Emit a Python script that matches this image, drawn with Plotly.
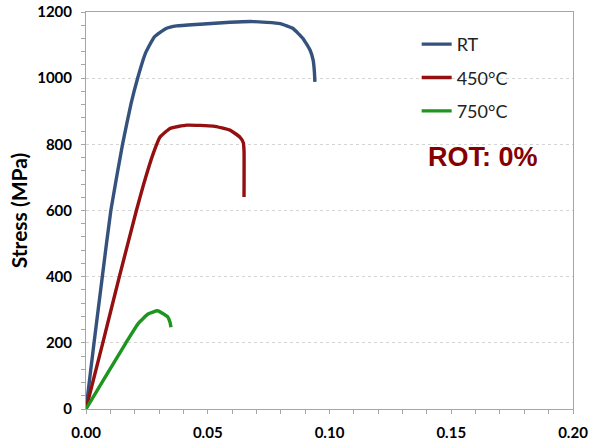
import plotly.graph_objects as go

# ---- data ----
rt_strain = [0.0, 0.0033, 0.0067, 0.0102, 0.0150, 0.0185, 0.0212, 0.0244, 0.0281, 0.0329,
             0.0372, 0.0468, 0.0591, 0.0687, 0.0797, 0.0850, 0.0891, 0.0920, 0.0933, 0.0938, 0.0940]
rt_stress = [0, 200, 400, 600, 800, 923, 1000, 1075, 1125, 1150,
             1158, 1163, 1169, 1171, 1165, 1150, 1120, 1085, 1054, 1019, 989]

t450_strain = [0.0, 0.0069, 0.0137, 0.0207, 0.0237, 0.0276, 0.0304, 0.0345, 0.0414,
               0.0523, 0.0591, 0.0632, 0.0646, 0.0649, 0.0649]
t450_stress = [0, 200, 400, 600, 680, 772, 822, 848, 858,
               855, 843, 822, 805, 780, 641]

t750_strain = [0.0, 0.0080, 0.0164, 0.0215, 0.0255, 0.0294, 0.0335, 0.0345, 0.0349]
t750_stress = [0, 98, 200, 259, 287, 297, 279, 262, 247]

series_names = ["RT", "450°C", "750°C"]
series_colors = ["#34527c", "#940f0f", "#1e951e"]

x_ticks = [0.00, 0.05, 0.10, 0.15, 0.20]
x_ticktext = ["0.00", "0.05", "0.10", "0.15", "0.20"]
y_ticks = [0, 200, 400, 600, 800, 1000, 1200]

annotation_text = "ROT: 0%"

FONT = "Lato"

fig = go.Figure()
for name, xs, ys, col in zip(series_names,
                             [rt_strain, t450_strain, t750_strain],
                             [rt_stress, t450_stress, t750_stress],
                             series_colors):
    fig.add_trace(go.Scatter(x=xs, y=ys, mode="lines", name=name, legendgroup=name,
                             line=dict(color=col, width=3.4, shape="spline", smoothing=0.4)))

axis_common = dict(showline=True, linecolor="#a6a6a6", linewidth=1, mirror=True,
                   ticks="outside", ticklen=4, tickcolor="#a6a6a6",
                   tickfont=dict(family=FONT, size=15, color="#000000", weight="bold"),
                   zeroline=False, automargin=False)

fig.update_layout(
    width=591, height=443,
    margin=dict(l=86, r=18, t=12, b=34),
    paper_bgcolor="white", plot_bgcolor="white",
    showlegend=True,
    legend=dict(x=0.679, y=0.965, xanchor="left", yanchor="top",
                font=dict(family=FONT, size=18, color="#222222"),
                bgcolor="rgba(0,0,0,0)", tracegroupgap=7),
    xaxis=dict(range=[0, 0.20], tickvals=x_ticks, ticktext=x_ticktext,
               showgrid=False, ticklabelstandoff=6,
               minor=dict(dtick=0.01, ticks="outside", ticklen=4, tickcolor="#a6a6a6", showgrid=False),
               **axis_common),
    yaxis=dict(range=[0, 1200], tickvals=y_ticks,
               showgrid=True, gridcolor="#d4d4d4", griddash="dot", gridwidth=1,
               ticklabelstandoff=6,
               minor=dict(dtick=40, ticks="outside", ticklen=4, tickcolor="#a6a6a6", showgrid=False),
               title=dict(text="Stress (MPa)", font=dict(family=FONT, size=21, color="#000000", weight="bold"),
                          standoff=3),
               **axis_common),
)

fig.add_annotation(x=0.1632, y=761, xref="x", yref="y", text=annotation_text, showarrow=False,
                   font=dict(family="Liberation Sans", size=27, color="#850000", weight="bold"))

fig.write_html("out.html")
